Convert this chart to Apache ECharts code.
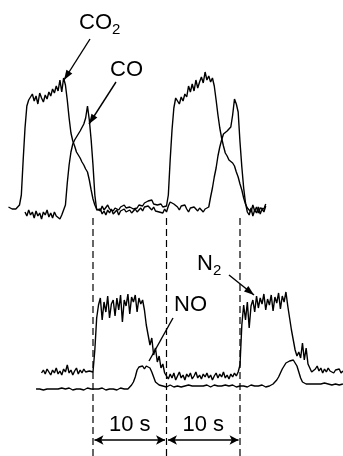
<!DOCTYPE html>
<html><head><meta charset="utf-8">
<script src="https://cdn.jsdelivr.net/npm/echarts@6/dist/echarts.min.js"></script>
<style>html,body{margin:0;padding:0;background:#fff}#c{width:343px;height:456px}</style>
</head><body><div id="c"></div>
<script>
// sampling interval of the recorded traces (s)
const DT = 0.25;

// top panel: CO2 and CO signals (arbitrary units)
const co2Start = -11.5;
const co2 = [
  3, 2, 1, 0, 1, 2, 5,
  15, 50, 82, 104,
  110, 113, 116, 109, 114, 106, 117, 112, 108, 115, 111, 118, 114, 121, 117, 124, 119, 130, 118, 132, 125,
  110, 92, 77, 69, 64, 58, 55, 52, 48, 45, 41, 38, 30, 20, 11, 5, 1,
  3, -1, 4, 0, 2, 5, 1, 3, -1, 2, 4, 0, 3, 1, 5, 2, 0, 3, 4, 1, 3, 2, 5, 3, 4, 7, 6, 9, 7, 10, 6, 8, 5, 4, 6, 3, 5, 4,
  15, 50, 80, 102, 112,
  110, 106, 113, 109, 116, 113, 124, 118, 126, 119, 130, 122, 128, 133, 127, 138, 130, 134, 128, 132, 124,
  110, 95, 82, 72, 64, 57, 54, 50, 52, 47, 44, 38, 33, 26, 20, 12, 6, 2,
  4, -2, 5, -1, 3, -3, 2, 4, 1, 6
];
const coStart = -9.25;
const co = [
  -2, -6, 0, -5, -2, -8, -1, -6, -3, -9, -2, -5, 0, -7, -3, -8, -2, -6, -4, -9, -5, -6,
  5, 27, 45, 58, 66, 70, 73, 76, 79, 81, 86, 92, 104, 90, 70, 45, 15, 0,
  -2, 1, -4, -1, -5, 0, -3, 1, -4, -2, 0, -5, -1, -3, 1, -2, -4, 0, -3, -1, 1, -2, 0, 2, -1, 3, 1, 4, 2, 0, 3, -1, 1, -2, 0, -3, 1, -2,
  4, 8, 10, 6, 7, 3, 0, 4, 2, 5, 1, -2, 2, 0, 3, 1, -1, 2, 0, -2, 1, -1, 3,
  13, 22, 33, 42, 54, 63, 70, 76, 77, 79, 80, 83, 95, 111, 106, 98, 68, 43, 22, 7, -2,
  -5, 2, -6, 0, -3, 3, -4, 1, -2, 4
];

// bottom panel: N2 and NO signals (arbitrary units)
const n2Start = -7.0;
const n2 = [
  17, 20, 16, 21, 18, 15, 20, 17, 22, 16, 19, 15, 21, 18, 25, 17, 20, 15, 19, 22, 16, 20, 17, 21, 18, 16, 19, 17, 18,
  40, 72, 85,
  92, 70, 88, 78, 94, 72, 86, 90, 74, 92, 80, 95, 68, 90, 84, 96, 76, 93, 88, 95, 78, 92, 86, 90, 80,
  65, 55, 45, 52, 35, 42, 28, 34, 22, 26, 17,
  15, 11, 16, 12, 17, 10, 14, 18, 12, 15, 10, 16, 13, 17, 11, 14, 18, 12, 15, 11,
  16, 13, 17, 12, 15, 10, 14, 17, 12, 16, 13, 18, 12, 15, 11, 16, 13, 17, 14, 18,
  25, 65, 85,
  70, 88, 62, 84, 90, 78, 94, 82, 92, 86, 96, 80, 91, 85, 95, 79, 93, 87, 97, 81, 94, 88, 98, 84,
  72, 60, 50, 40, 34, 38, 32, 47, 30, 42, 26, 22, 18, 16, 21, 24, 19, 22, 17, 21, 18, 22, 19, 21, 17, 20, 18, 21, 17, 19
];
const noStart = -7.75;
const no = [
  1, 2, 1, 1, 0, 2, 1, 2, 1, 0, 1, 2, 1, 1, 2, 0, 1, 1, 2, 1, 0, -1, 1, 2, 1, 1, 0, 1, 2, 1,
  1, 0, 1, 2, 1, 1, 2, 1, 0, 1, 1, 2, 1, 1, 0, 1, 2, 1, 1, 2,
  1, 2, 5, 8, 13, 20, 23, 22, 24, 21, 24, 26, 22, 18, 13, 8, 6, 5, 4, 4,
  4, 3, 4, 5, 4, 3, 4, 4, 5, 3, 4, 4, 3, 5, 4, 4, 3, 4, 5, 4, 3, 4, 4, 5, 4, 3, 4, 5, 4, 4,
  3, 4, 4, 5, 3, 4, 4, 5, 4, 3, 4, 4, 5, 4, 4, 3, 4, 5, 4, 4, 3, 4, 4, 5, 4, 3, 4, 4,
  5, 6, 7, 10, 13, 17, 21, 24, 27, 26, 29, 27, 30, 27, 24, 18, 12, 8, 7,
  6, 7, 6, 5, 6, 7, 6, 5, 6, 6, 7, 5, 6, 6, 5, 7, 6, 6, 5, 6, 6
];

// switching instants (s) and the interval labels between them
const markerTimes = [0, 10, 20];
const spanLabels = ['10 s', '10 s'];

function toPairs(start, arr) { return arr.map((v, i) => [start + i * DT, v]); }

const FONT = '"Liberation Sans", Arial, Helvetica, sans-serif';
const FS = 22, SUB_FS = 15;
const X_MIN = -12.653, X_MAX = 34.014;

const chart = echarts.init(document.getElementById('c'), null, { renderer: 'canvas' });

const traceStyle = { color: '#000', width: 1.4 };
function trace(name, start, arr, grid) {
  return {
    name, type: 'line', xAxisIndex: grid, yAxisIndex: grid,
    data: toPairs(start, arr), showSymbol: false, symbol: 'none',
    lineStyle: traceStyle, silent: true, animation: false
  };
}

const series = [
  trace('CO2', co2Start, co2, 1),
  trace('CO', coStart, co, 1),
  trace('N2', n2Start, n2, 2),
  trace('NO', noStart, no, 2)
];
markerTimes.forEach(t => {
  series.push({
    type: 'line', xAxisIndex: 0, yAxisIndex: 0, symbol: 'none', silent: true, animation: false,
    data: [[t, 218], [t, 456]],
    lineStyle: { color: '#000', width: 1.2, type: [7, 4] }
  });
});
series.push({
  type: 'line', xAxisIndex: 0, yAxisIndex: 0, data: [], silent: true, animation: false,
  markLine: {
    silent: true, animation: false,
    symbol: ['arrow', 'arrow'], symbolSize: [7, 9],
    lineStyle: { color: '#000', width: 1.5, type: 'solid' },
    label: {
      show: true, position: 'insideMiddleTop', distance: 4,
      color: '#000', fontSize: FS, fontFamily: FONT,
      formatter: p => p.name
    },
    data: spanLabels.map((lab, i) => [
      { name: lab, coord: [markerTimes[i] + 0.2, 440] },
      { coord: [markerTimes[i + 1] - 0.2, 440] }
    ])
  }
});

function arrow(x1, y1, x2, y2, head) {
  const els = [{ type: 'line', shape: { x1, y1, x2, y2 }, style: { stroke: '#000', lineWidth: 1.4 } }];
  if (head) {
    const a = Math.atan2(y2 - y1, x2 - x1), L = 10, W = 3.5;
    const bx = x2 - L * Math.cos(a), by = y2 - L * Math.sin(a);
    els.push({ type: 'polygon', shape: { points: [[x2, y2],
      [bx + W * Math.sin(a), by - W * Math.cos(a)], [bx - W * Math.sin(a), by + W * Math.cos(a)]] },
      style: { fill: '#000' } });
  }
  return els;
}
function label(x, y, main, sub, subDx) {
  const els = [{ type: 'text', x, y, style: { text: main, fontSize: FS, fontFamily: FONT, fill: '#000', verticalAlign: 'middle' } }];
  if (sub) {
    els.push({ type: 'text', x: x + subDx, y: y + 7, style: { text: sub, fontSize: SUB_FS, fontFamily: FONT, fill: '#000', verticalAlign: 'middle' } });
  }
  return els;
}

const graphic = [].concat(
  label(79, 23, 'CO', '2', 33),
  arrow(90, 39, 64, 80, true),
  label(110, 70, 'CO'),
  arrow(116, 82, 89, 124, true),
  label(197, 264, 'N', '2', 16),
  arrow(229, 275, 254, 295, true),
  label(174, 305, 'NO'),
  arrow(173, 318, 149, 361, false)
);

chart.setOption({
  backgroundColor: '#fff',
  animation: false,
  grid: [
    { left: 0, right: 0, top: 0, bottom: 0 },
    { left: 0, right: 0, top: 60, height: 170 },
    { left: 0, right: 0, top: 280, height: 130 }
  ],
  xAxis: [0, 1, 2].map(i => ({ type: 'value', gridIndex: i, min: X_MIN, max: X_MAX, show: false })),
  yAxis: [
    { type: 'value', gridIndex: 0, min: 0, max: 456, inverse: true, show: false },
    { type: 'value', gridIndex: 1, min: -20, max: 150, show: false },
    { type: 'value', gridIndex: 2, min: -20, max: 110, show: false }
  ],
  series,
  graphic
});
</script></body></html>
